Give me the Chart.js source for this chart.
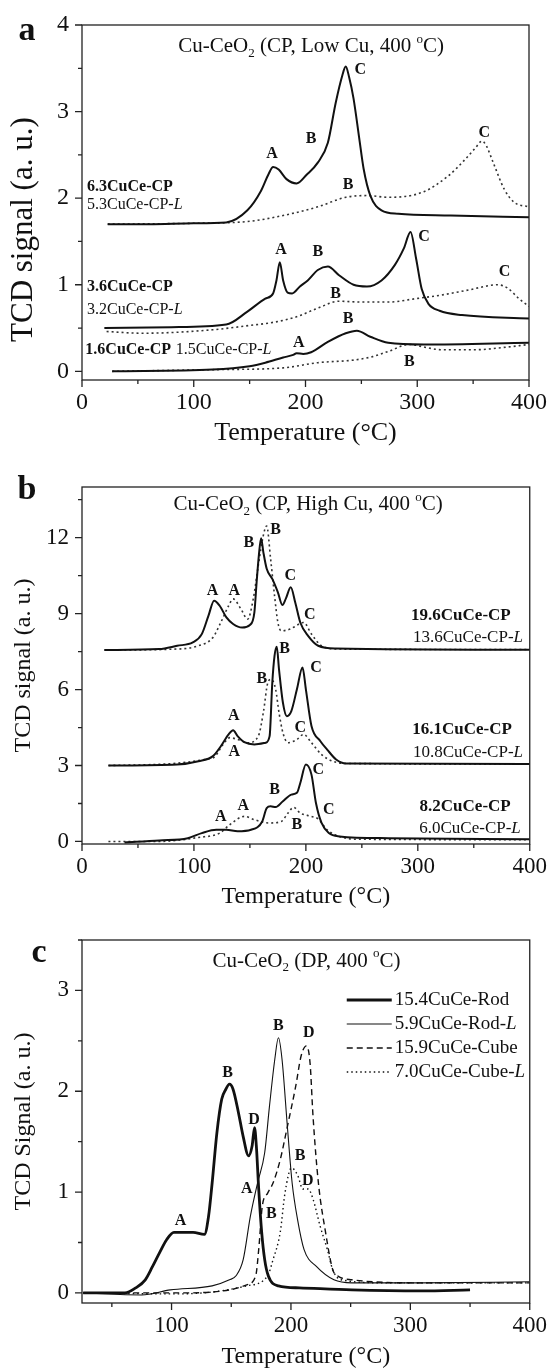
<!DOCTYPE html>
<html>
<head>
<meta charset="utf-8">
<script src="https://cdn.jsdelivr.net/npm/chart.js@4.4.1/dist/chart.umd.min.js"></script>
<style>
  body { margin: 0; background: #fff; width: 558px; height: 1369px; position: relative; overflow: hidden; }
  canvas { position: absolute; left: 0; }
</style>
</head>
<body>
<canvas id="chartA" width="558" height="450" style="top:0px"></canvas>
<canvas id="chartB" width="558" height="462" style="top:450px"></canvas>
<canvas id="chartC" width="558" height="457" style="top:912px"></canvas>
<script>
// ---- tick values ----
const xTicksAB = [0, 50, 100, 150, 200, 250, 300, 350, 400];
const xTicksC = [50, 100, 150, 200, 250, 300, 350, 400];
const yTicksA = [0, 0.5, 1, 1.5, 2, 2.5, 3, 3.5, 4];
const yTicksB = [0, 1.5, 3, 4.5, 6, 7.5, 9, 10.5, 12, 13.5];
const yTicksC = [0, 0.5, 1, 1.5, 2, 2.5, 3, 3.5];

// ---- panel a: [temperature, signal] ----
const cp63 = [[23,1.70],[60,1.70],[100,1.71],[129,1.72],[148,1.86],[160,2.08],[167,2.28],[171,2.36],[176,2.33],[183,2.22],[192,2.17],[201,2.27],[211,2.41],[220,2.64],[227,3.1],[233,3.42],[236,3.52],[239,3.40],[243,3.15],[248,2.70],[252,2.34],[258,2.03],[268,1.86],[283,1.82],[330,1.80],[400,1.78]];
const cp53L = [[23,1.70],[100,1.71],[148,1.73],[180,1.80],[211,1.90],[236,2.01],[255,2.03],[274,2.01],[305,2.07],[328,2.26],[343,2.45],[352,2.58],[358,2.66],[362,2.60],[368,2.41],[378,2.10],[387,1.95],[400,1.90]];
const cp36 = [[20,0.50],[80,0.51],[129,0.54],[148,0.69],[164,0.84],[171,0.90],[174,1.05],[177,1.26],[180,1.05],[184,0.91],[188,0.90],[195,0.98],[202,1.05],[211,1.17],[220,1.21],[230,1.11],[243,1.00],[255,0.98],[268,1.05],[280,1.23],[288,1.42],[294,1.61],[299,1.30],[304,0.95],[310,0.78],[320,0.70],[340,0.65],[400,0.61]];
const cp32L = [[22,0.46],[54,0.44],[117,0.48],[150,0.53],[173,0.57],[192,0.63],[211,0.73],[230,0.81],[250,0.80],[274,0.80],[299,0.84],[321,0.88],[346,0.94],[372,1.00],[381,0.96],[391,0.84],[400,0.75]];
const cp16 = [[27,0.00],[117,0.02],[150,0.06],[164,0.10],[180,0.16],[189,0.19],[192,0.21],[198,0.20],[205,0.22],[220,0.34],[236,0.44],[246,0.47],[258,0.40],[274,0.33],[306,0.31],[400,0.33]];
const cp15L = [[27,0.00],[120,0.02],[180,0.04],[211,0.10],[243,0.13],[260,0.17],[274,0.23],[293,0.31],[310,0.27],[321,0.25],[353,0.25],[380,0.28],[400,0.31]];

// ---- panel b ----
const cp196 = [[20,7.56],[69,7.60],[85,7.73],[99,7.86],[107,8.19],[113,8.92],[118,9.51],[123,9.31],[129,8.85],[135,8.59],[143,8.45],[150,8.55],[154,9.05],[156,10.24],[158,11.3],[160,11.98],[162,11.43],[165,10.77],[170,10.37],[175,9.84],[179,9.34],[182,9.58],[186.5,10.04],[190.5,9.44],[195,8.65],[202,8.12],[211,7.73],[227,7.62],[400,7.57]];
const cp136L = [[20,7.56],[85,7.60],[104,7.73],[117,8.06],[124,8.65],[131,9.31],[135,9.58],[142,9.18],[148,8.78],[153,9.58],[157.5,10.9],[162,12.09],[165,12.46],[168.5,11.16],[172,9.71],[175,8.65],[178,8.32],[186,8.39],[194,8.59],[198,8.65],[205,8.19],[214,7.73],[230,7.60],[400,7.58]];
const cp161 = [[23.6,3.0],[85,3.04],[104,3.17],[117,3.37],[124,3.76],[131,4.23],[135,4.39],[139,4.16],[145,3.92],[154,3.83],[164,3.90],[167.6,4.16],[170,6.27],[172,7.33],[174,7.69],[176,6.8],[179.5,5.48],[183,4.95],[187,5.15],[192,6.01],[197,6.87],[200,6.01],[205,4.56],[213,3.96],[219,3.63],[227,3.24],[236,3.08],[400,3.06]];
const cp108L = [[23.6,3.0],[117,3.3],[126,3.83],[132,4.1],[139,4.03],[148,3.9],[157.5,4.16],[162,5.09],[166,6.27],[169,6.4],[173,6.01],[176,5.09],[179.5,4.29],[184,3.9],[192,4.03],[198,4.23],[205,3.9],[214,3.43],[224,3.17],[236,3.08],[400,3.06]];
const cp82 = [[38,-0.04],[69,0.04],[94.5,0.13],[107,0.33],[120,0.46],[129,0.46],[139,0.40],[151,0.46],[161,0.79],[165,1.32],[168.5,1.39],[173,1.36],[179.5,1.59],[187,1.85],[192,1.92],[195,2.31],[200,3.04],[205,2.64],[209,1.52],[214,0.73],[220.5,0.33],[230,0.20],[274,0.13],[400,0.09]];
const cp60L = [[23.6,0.0],[69,0.0],[104,0.16],[123,0.33],[132,0.66],[145,0.99],[154,0.86],[167,0.73],[178,0.79],[184,1.12],[189,1.35],[195,1.12],[205,0.99],[211,0.89],[219,0.46],[230,0.20],[243,0.09],[400,0.07]];

// ---- panel c ----
const rod154 = [[26,0.0],[61,0.0],[70,0.05],[78,0.13],[84,0.26],[90,0.40],[96,0.53],[102,0.60],[108,0.60],[118,0.60],[127.5,0.58],[131,0.76],[134,1.09],[138,1.59],[142,1.92],[145.5,2.02],[148.5,2.07],[151.5,2.02],[156,1.79],[160,1.55],[164.5,1.36],[167.5,1.46],[169.5,1.64],[171,1.46],[173,1.03],[175.5,0.60],[178,0.33],[181,0.17],[189.5,0.07],[207,0.05],[251,0.03],[309,0.02],[350,0.03]];
const rod59L = [[26,0.0],[75,-0.02],[99,0.03],[134,0.07],[148.5,0.13],[154,0.17],[160,0.33],[166,0.76],[172,1.09],[178,1.39],[182,1.85],[186.5,2.32],[189.5,2.53],[192.5,2.32],[197,1.65],[201,1.09],[205.5,0.73],[211,0.43],[221.5,0.26],[236,0.13],[251,0.10],[309,0.10],[400,0.11]];
const cube159 = [[26,0.0],[105,0.0],[148.5,0.03],[163,0.08],[170.5,0.17],[173,0.43],[176,0.86],[180.5,0.99],[185,1.09],[191,1.32],[197,1.65],[204,2.05],[208.5,2.35],[213,2.45],[216,2.28],[218.5,1.75],[223,1.09],[229,0.60],[235,0.23],[239,0.17],[251,0.13],[309,0.10],[400,0.10]];
const cube70L = [[26,0.0],[105,-0.01],[163,0.07],[180.5,0.17],[185,0.33],[191,0.60],[195,0.99],[200.5,1.24],[205.5,1.17],[210,1.03],[214.5,1.03],[218.5,0.93],[224.5,0.66],[230.5,0.43],[235,0.23],[242,0.13],[280,0.10],[400,0.10]];

// ---- peak letters: [letter, temperature, signal] ----
const peaksA = [['A',170,2.51],['B',205,2.68],['C',249,3.48],['C',360,2.76],['B',238,2.15],['A',178,1.40],['B',211,1.38],['C',306,1.55],['C',378,1.15],['B',227,0.89],['B',238,0.61],['A',194,0.33],['B',293,0.11]];
const peaksB = [['A',116.5,9.9],['A',136,9.9],['B',149,11.8],['B',173,12.3],['C',186,10.5],['C',203.5,8.94],['B',181,7.62],['C',209,6.87],['B',160.6,6.43],['A',135.5,4.95],['C',195,4.49],['A',136,3.53],['C',211,2.84],['B',172,2.05],['A',144,1.41],['A',124,0.99],['C',220.5,1.23],['B',192,0.66]];
const peaksC = [['A',107.6,0.71],['B',147,2.18],['D',169,1.72],['A',163,1.03],['B',189.5,2.65],['D',215,2.58],['B',207.6,1.36],['D',214,1.11],['B',183.6,0.78]];

// ---- sample names: [name, bold, temperature, signal] ----
const namesA = [['6.3CuCe-CP',true,4.5,2.13],['5.3CuCe-CP-L',false,4.5,1.92],['3.6CuCe-CP',true,4.5,0.97],['3.2CuCe-CP-L',false,4.5,0.71],['1.6CuCe-CP',true,3,0.25],['1.5CuCe-CP-L',false,84,0.25]];
const namesB = [['19.6CuCe-CP',true,383,8.94],['13.6CuCe-CP-L',false,394,8.06],['16.1CuCe-CP',true,384,4.43],['10.8CuCe-CP-L',false,394,3.53],['8.2CuCe-CP',true,383,1.39],['6.0CuCe-CP-L',false,392,0.53]];
const legendC = ['15.4CuCe-Rod', '5.9CuCe-Rod-L', '15.9CuCe-Cube', '7.0CuCe-Cube-L'];

const FAM = "'Liberation Serif', 'Times New Roman', serif";
const INK = '#111';

function drawRich(ctx, segs, x, y, size, align) {
  const fontOf = s => (s.i ? 'italic ' : '') + (s.b ? 'bold ' : '') + ((s.sub || s.sup) ? size * 0.62 : size) + 'px ' + FAM;
  let w = 0;
  segs.forEach(s => { ctx.font = fontOf(s); w += ctx.measureText(s.t).width; });
  let cx = align === 'center' ? x - w / 2 : align === 'right' ? x - w : x;
  ctx.textAlign = 'left';
  ctx.textBaseline = 'middle';
  segs.forEach(s => {
    ctx.font = fontOf(s);
    const dy = s.sub ? size * 0.32 : s.sup ? -size * 0.36 : 0;
    ctx.fillText(s.t, cx, y + dy);
    cx += ctx.measureText(s.t).width;
  });
}

function nameSegs(name, bold) {
  if (name.endsWith('-L')) return [{t: name.slice(0, -1), b: bold}, {t: 'L', b: bold, i: true}];
  return [{t: name, b: bold}];
}

const decor = {
  chartA: {
    letter: ['a', 27, 31],
    title: [[{t:'Cu-CeO'},{t:'2',sub:1},{t:' (CP, Low Cu, 400 '},{t:'o',sup:1},{t:'C)'}], 205, 3.75],
    peaks: peaksA, names: namesA, align: 'left', nameSize: 16
  },
  chartB: {
    letter: ['b', 27, 40],
    title: [[{t:'Cu-CeO'},{t:'2',sub:1},{t:' (CP, High Cu, 400 '},{t:'o',sup:1},{t:'C)'}], 202, 13.3],
    peaks: peaksB, names: namesB, align: 'right', nameSize: 17
  },
  chartC: {
    letter: ['c', 39, 41],
    title: [[{t:'Cu-CeO'},{t:'2',sub:1},{t:' (DP, 400 '},{t:'o',sup:1},{t:'C)'}], 213, 3.29],
    peaks: peaksC, names: [], align: 'left', nameSize: 17, legend: legendC
  }
};

const decorPlugin = {
  id: 'decor',
  afterDraw(chart) {
    const d = decor[chart.canvas.id];
    const {ctx, chartArea: a} = chart;
    const xs = chart.scales.x, ys = chart.scales.y;
    ctx.save();
    ctx.strokeStyle = '#222';
    ctx.lineWidth = 1.3;
    ctx.setLineDash([]);
    ctx.strokeRect(a.left, a.top, a.right - a.left, a.bottom - a.top);
    ctx.beginPath();
    xs.ticks.forEach(t => {
      const p = xs.getPixelForValue(t.value);
      const len = t.label !== '' ? 7 : 4;
      ctx.moveTo(p, a.bottom); ctx.lineTo(p, a.bottom + len);
    });
    ys.ticks.forEach(t => {
      const p = ys.getPixelForValue(t.value);
      const len = t.label !== '' ? 7 : 4;
      ctx.moveTo(a.left, p); ctx.lineTo(a.left - len, p);
    });
    ctx.stroke();

    ctx.fillStyle = INK;
    drawRich(ctx, [{t: d.letter[0], b: true}], d.letter[1], d.letter[2], 34, 'center');
    drawRich(ctx, d.title[0], xs.getPixelForValue(d.title[1]), ys.getPixelForValue(d.title[2]), 21, 'center');
    d.peaks.forEach(([s, x, y]) => {
      drawRich(ctx, [{t: s, b: true}], xs.getPixelForValue(x), ys.getPixelForValue(y), 16, 'center');
    });
    d.names.forEach(([n, bold, x, y]) => {
      drawRich(ctx, nameSegs(n, bold), xs.getPixelForValue(x), ys.getPixelForValue(y), d.nameSize, d.align);
    });
    if (d.legend) {
      chart.data.datasets.forEach((ds, i) => {
        const yy = a.top + 60 + i * 24;
        const x0 = a.right - 183;
        ctx.strokeStyle = ds.borderColor;
        ctx.lineWidth = ds.borderWidth;
        ctx.setLineDash(ds.borderDash || []);
        ctx.beginPath();
        ctx.moveTo(x0, yy); ctx.lineTo(x0 + 45, yy);
        ctx.stroke();
        ctx.setLineDash([]);
        drawRich(ctx, nameSegs(d.legend[i], false), x0 + 48, yy, 19, 'left');
      });
    }
    ctx.restore();
  }
};
Chart.register(decorPlugin);

function series(pts, width, dash, color) {
  return {
    data: pts.map(p => ({x: p[0], y: p[1]})),
    borderColor: color || INK,
    borderWidth: width,
    borderDash: dash || [],
    fill: false,
    pointRadius: 0,
    cubicInterpolationMode: 'monotone'
  };
}

function makeChart(id, cfg) {
  const canvasH = document.getElementById(id).height;
  return new Chart(document.getElementById(id), {
    type: 'line',
    data: {datasets: cfg.datasets},
    options: {
      responsive: false,
      animation: false,
      devicePixelRatio: 1,
      layout: {padding: {left: 0, right: cfg.padRight, top: cfg.padTop, bottom: 0}},
      plugins: {legend: {display: false}, tooltip: {enabled: false}},
      scales: {
        x: {
          type: 'linear',
          min: cfg.xMin, max: 400,
          afterBuildTicks: s => { s.ticks = cfg.xTicks.map(v => ({value: v})); },
          afterFit: s => { s.height = canvasH - cfg.bottom; },
          grid: {display: false, drawTicks: false},
          border: {display: false},
          ticks: {
            autoSkip: false, maxRotation: 0, padding: 11, color: INK,
            font: {family: FAM, size: cfg.tickSize, lineHeight: 1},
            callback: v => (v % 100 === 0 ? String(v) : '')
          },
          title: {display: true, text: 'Temperature (°C)', color: INK,
            font: {family: FAM, size: cfg.xTitleSize, lineHeight: 1}, padding: {top: 0, bottom: cfg.titlePad}}
        },
        y: {
          type: 'linear',
          min: -0.1, max: cfg.yMax,
          afterBuildTicks: s => { s.ticks = cfg.yTicks.map(v => ({value: v})); },
          afterFit: s => { s.width = 82; },
          grid: {display: false, drawTicks: false},
          border: {display: false},
          ticks: {
            autoSkip: false, padding: 13, color: INK,
            font: {family: FAM, size: cfg.tickSize, lineHeight: 1},
            callback: v => (Math.abs(v % cfg.yMajor) < 1e-9 ? String(v) : '')
          },
          title: {display: true, text: cfg.yTitle, color: INK,
            font: {family: FAM, size: cfg.yTitleSize, lineHeight: 1}, padding: {top: cfg.yTitlePad, bottom: 0}}
        }
      }
    }
  });
}

makeChart('chartA', {
  datasets: [
    series(cp63, 2), series(cp53L, 1.6, [2, 3], '#333'),
    series(cp36, 2), series(cp32L, 1.6, [2, 3], '#333'),
    series(cp16, 2), series(cp15L, 1.6, [2, 3], '#333')
  ],
  padTop: 22, padRight: 23, bottom: 380, titlePad: 4,
  xMin: 0, xTicks: xTicksAB, yTicks: yTicksA, yMax: 4, yMajor: 1,
  tickSize: 24, xTitleSize: 26, yTitleSize: 31, yTitlePad: 8,
  yTitle: 'TCD signal (a. u.)' + '\u00a0'.repeat(7)
});

makeChart('chartB', {
  datasets: [
    series(cp196, 2), series(cp136L, 1.6, [2, 3], '#333'),
    series(cp161, 2), series(cp108L, 1.6, [2, 3], '#333'),
    series(cp82, 2), series(cp60L, 1.6, [2, 3], '#333')
  ],
  padTop: 37, padRight: 23, bottom: 394, titlePad: 3,
  xMin: 0, xTicks: xTicksAB, yTicks: yTicksB, yMax: 14, yMajor: 3,
  tickSize: 23, xTitleSize: 24, yTitleSize: 24, yTitlePad: 12,
  yTitle: 'TCD signal (a. u.)'
});

makeChart('chartC', {
  datasets: [
    series(rod154, 2.8), series(rod59L, 1.1),
    series(cube159, 1.4, [6, 4]), series(cube70L, 1.4, [1.5, 3])
  ],
  padTop: 28, padRight: 20, bottom: 391, titlePad: 0,
  xMin: 25, xTicks: xTicksC, yTicks: yTicksC, yMax: 3.5, yMajor: 1,
  tickSize: 23, xTitleSize: 24, yTitleSize: 24, yTitlePad: 12,
  yTitle: 'TCD Signal (a. u.)'
});
</script>
</body>
</html>
